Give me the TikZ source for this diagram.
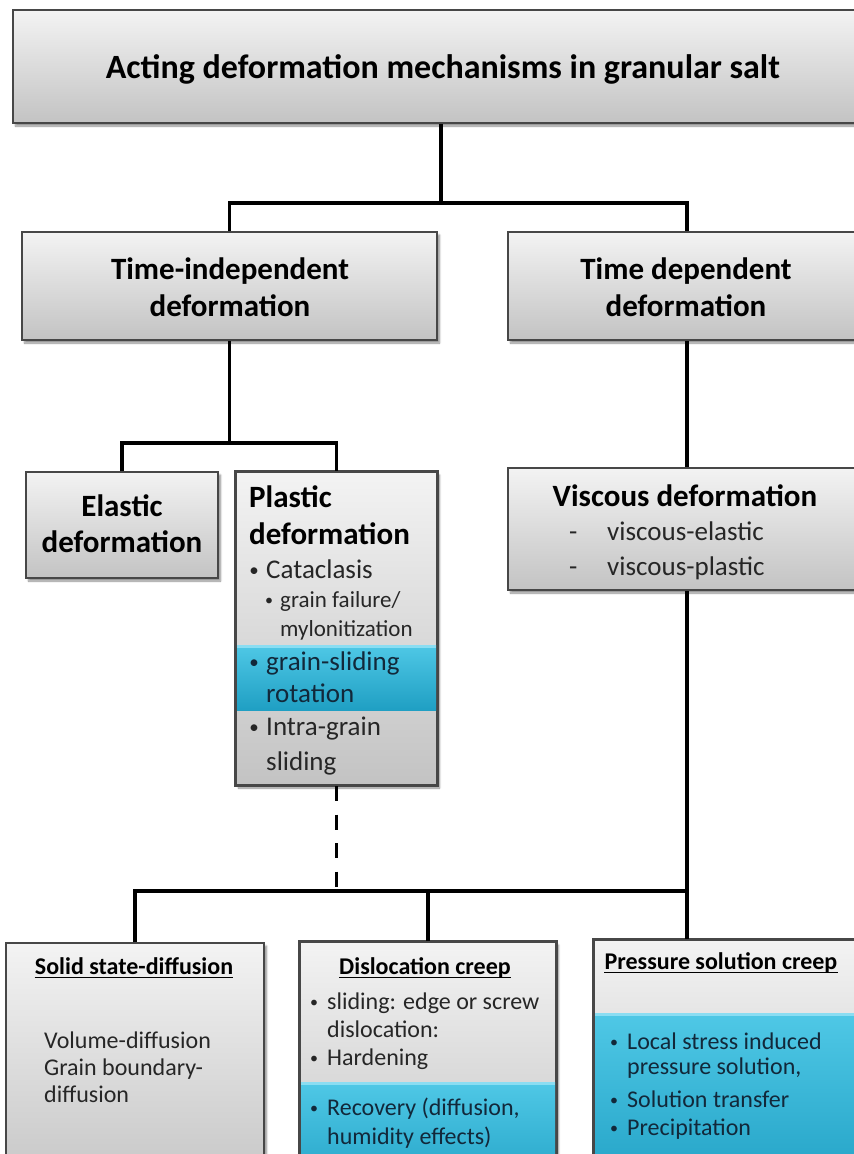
\documentclass[tikz,border=0pt]{standalone}
\usepackage{fontspec}
\setmainfont{Carlito}
\usetikzlibrary{shadows.blur}
\definecolor{bordergray}{HTML}{474747}
\definecolor{boxtop}{HTML}{F3F3F3}
\definecolor{boxbot}{HTML}{C3C3C3}
\definecolor{bluetop}{HTML}{4FC8E6}
\definecolor{bluebot}{HTML}{1F9FC3}
\definecolor{bluehl}{HTML}{8ADDF2}
\definecolor{bluetext}{HTML}{12283A}
\definecolor{bodytext}{HTML}{262626}
\tikzset{
  gbox/.style={draw=bordergray, line width=2pt, top color=boxtop, bottom color=boxbot,
    inner sep=0pt, blur shadow={shadow xshift=2.5pt, shadow yshift=-3pt, shadow blur steps=6, shadow opacity=45}},
  conn/.style={line width=3.2pt, black},
  dconn/.style={conn, dash pattern=on 15pt off 13.5pt},
  bandfill/.style={top color=bluetop, bottom color=bluebot},
  titletxt/.style={font=\bfseries\fontsize{34}{41}\selectfont, inner sep=0pt, anchor=base, text=black},
  headtxt/.style={font=\bfseries\fontsize{31}{37}\selectfont, inner sep=0pt, anchor=base, text=black},
  headl/.style={headtxt, anchor=base west},
  bodyl/.style={font=\fontsize{27}{32}\selectfont, inner sep=0pt, anchor=base west, text=bodytext},
  subl/.style={font=\fontsize{23}{28}\selectfont, inner sep=0pt, anchor=base west, text=bodytext},
  smallhead/.style={font=\bfseries\fontsize{24}{29}\selectfont, inner sep=0pt, anchor=base, text=black},
  smalll/.style={font=\fontsize{24}{29}\selectfont, inner sep=0pt, anchor=base west, text=bodytext},
  bul/.style={font=\fontsize{19}{22}\selectfont, inner sep=0pt, anchor=base, text=bodytext},
  sbul/.style={font=\fontsize{16}{19}\selectfont, inner sep=0pt, anchor=base, text=bodytext},
  ulin/.style={line width=1.6pt, black},
}
\begin{document}
\begin{tikzpicture}[x=1pt,y=-1pt]
\useasboundingbox (0,0) rectangle (854,1154);
\clip (0,0) rectangle (854,1154);

% ---------- boxes ----------
\node[gbox, minimum width=856, minimum height=113] (title) at (441,66.5) {};
\node[gbox, minimum width=415, minimum height=108] (ti) at (229.5,286) {};
\node[gbox, minimum width=358, minimum height=108] (td) at (687,286) {};
\node[gbox, minimum width=192, minimum height=106] (el) at (122,525) {};
\node[gbox, minimum width=201, minimum height=313] (pl) at (336.5,628.5) {};
\node[gbox, minimum width=358, minimum height=122] (vi) at (687,529) {};
\node[gbox, minimum width=258, minimum height=257] (so) at (135,1071.5) {};
\node[gbox, minimum width=256, minimum height=258] (di) at (428,1071) {};
\node[gbox, minimum width=276, minimum height=260] (pr) at (732,1070) {};

% ---------- blue bands ----------
\fill[bandfill] (237,645) rectangle (436,710);
\fill[bluehl] (237,645) rectangle (436,648);
\draw[bordergray, line width=2pt] (pl.north west) rectangle (pl.south east);
\fill[bandfill] (301,1082) rectangle (555,1200);
\fill[bluehl] (301,1082) rectangle (555,1085);
\draw[bordergray, line width=2pt] (di.north west) rectangle (di.south east);
\fill[bandfill] (595,1013) rectangle (869,1200);
\fill[bluehl] (595,1013) rectangle (869,1016);
\draw[bordergray, line width=2pt] (pr.north west) rectangle (pr.south east);

% ---------- connectors ----------
\coordinate (j1) at (441,203);
\coordinate (j2) at (229.5,443);
\coordinate (j3) at (687,891);
\draw[conn] (title.south) -- (j1);
\draw[conn] (ti.north) |- (j1) -| (td.north);
\draw[conn] (ti.south) -- (j2);
\draw[conn] (el.north) |- (j2) -| (pl.north);
\draw[conn] (td.south) -- (vi.north);
\draw[conn] (vi.south) -- (vi.south |- pr.north);
\draw[conn] (so.north) |- (j3);
\draw[conn] (di.north) -- (di.north |- j3);
\draw[dconn] (pl.south) -- (pl.south |- j3);

% ---------- texts ----------
\node[titletxt] (ttitle) at (443,78) {Acting deformation mechanisms in granular salt};

\node[headtxt] (tti1) at (230,279) {Time-independent};
\node[headtxt] (tti2) at (230,316) {deformation};
\node[headtxt] (ttd1) at (686,279) {Time dependent};
\node[headtxt] (ttd2) at (686,316) {deformation};

\node[headtxt] (tel1) at (122,516) {Elastic};
\node[headtxt] (tel2) at (122,552) {deformation};

\node[headl] (tpl1) at (249,507) {Plastic};
\node[headl] (tpl2) at (249,544) {deformation};
\node[bul] (bpl1) at (254,576) {•};
\node[bodyl] (tpl3) at (266,578) {Cataclasis};
\node[sbul] (bpl2) at (269,605) {•};
\node[subl] (tpl4) at (280,607) {grain failure/};
\node[subl] (tpl5) at (280,636) {mylonitization};
\node[bul, text=bluetext] (bpl3) at (254,668) {•};
\node[bodyl, text=bluetext] (tpl6) at (266,670) {grain-sliding};
\node[bodyl, text=bluetext] (tpl7) at (266,702) {rotation};
\node[bul] (bpl4) at (254,733) {•};
\node[bodyl] (tpl8) at (266,735) {Intra-grain};
\node[bodyl] (tpl9) at (266,770) {sliding};

\node[headtxt] (tvi1) at (685,506) {Viscous deformation};
\node[bodyl] (dvi1) at (569,540) {-};
\node[bodyl] (tvi2) at (607,540) {viscous-elastic};
\node[bodyl] (dvi2) at (569,575) {-};
\node[bodyl] (tvi3) at (607,575) {viscous-plastic};

\node[smallhead] (hso) at (134,974) {Solid state-diffusion};
\draw[ulin] ([yshift=-3.5pt]hso.base west) -- ([yshift=-3.5pt]hso.base east);
\node[smalll] (tso1) at (44,1048) {Volume-diffusion};
\node[smalll] (tso2) at (44,1075) {Grain boundary-};
\node[smalll] (tso3) at (44,1102) {diffusion};

\node[smallhead] (hdi) at (425,974) {Dislocation creep};
\draw[ulin] ([yshift=-3.5pt]hdi.base west) -- ([yshift=-3.5pt]hdi.base east);
\node[sbul] (bdi1) at (314,1007) {•};
\node[smalll] (tdi1) at (327,1009) {sliding: edge or screw};
\node[smalll] (tdi2) at (327,1037) {dislocation:};
\node[sbul] (bdi2) at (314,1063) {•};
\node[smalll] (tdi3) at (327,1065) {Hardening};
\node[sbul, text=bluetext] (bdi3) at (314,1113) {•};
\node[smalll, text=bluetext] (tdi4) at (327,1115) {Recovery (diffusion,};
\node[smalll, text=bluetext] (tdi5) at (327,1144) {humidity effects)};

\node[smallhead] (hpr) at (721,969) {Pressure solution creep};
\draw[ulin] ([yshift=-3.5pt]hpr.base west) -- ([yshift=-3.5pt]hpr.base east);
\node[sbul, text=bluetext] (bpr1) at (614,1047) {•};
\node[smalll, text=bluetext] (tpr1) at (627,1049) {Local stress induced};
\node[smalll, text=bluetext] (tpr2) at (627,1074) {pressure solution,};
\node[sbul, text=bluetext] (bpr2) at (614,1105) {•};
\node[smalll, text=bluetext] (tpr3) at (627,1107) {Solution transfer};
\node[sbul, text=bluetext] (bpr3) at (614,1133) {•};
\node[smalll, text=bluetext] (tpr4) at (627,1135) {Precipitation};
\end{tikzpicture}
\end{document}
